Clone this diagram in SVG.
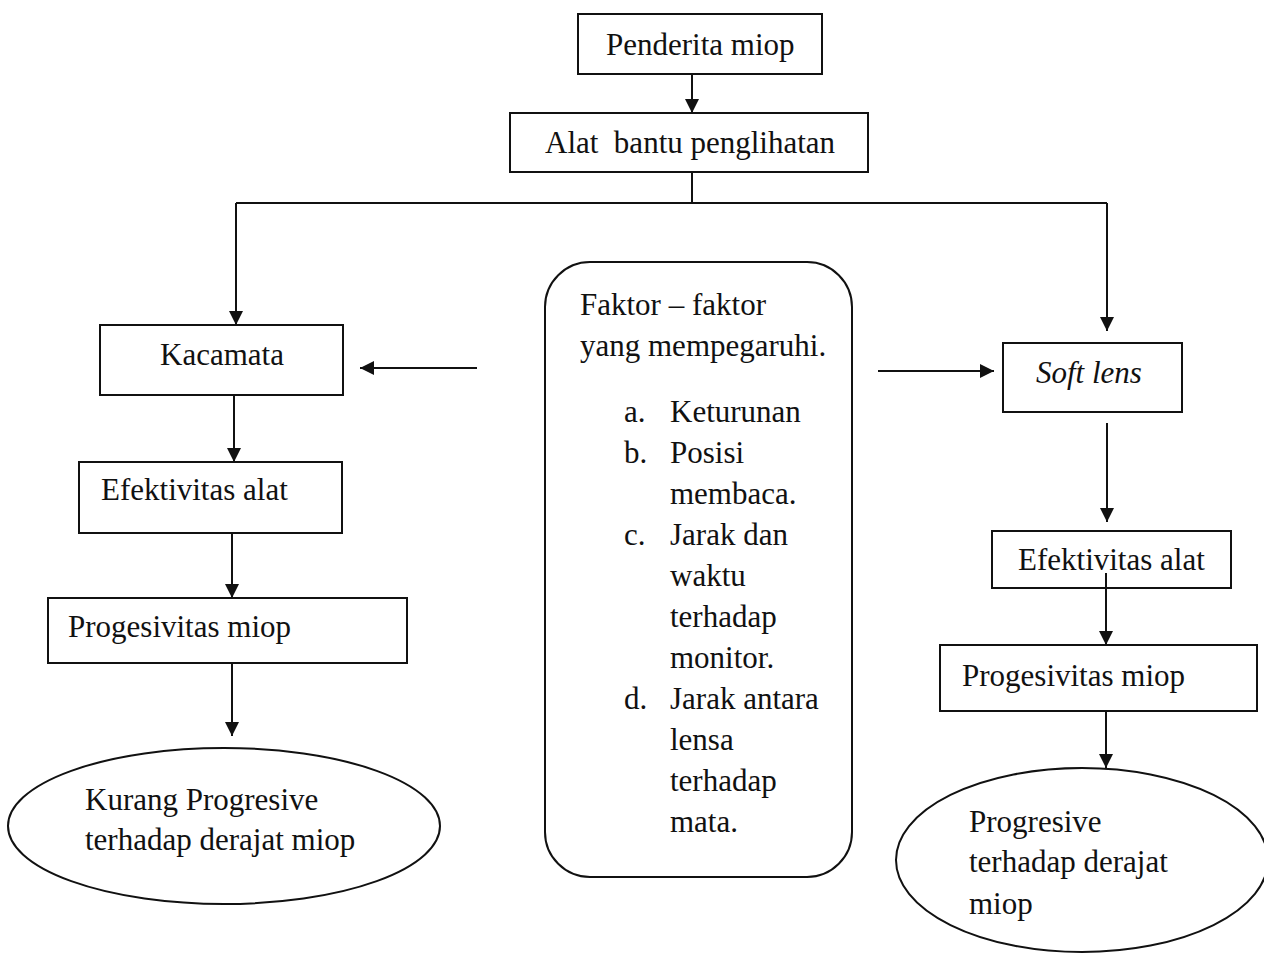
<svg xmlns="http://www.w3.org/2000/svg" width="1264" height="954" viewBox="0 0 1264 954">
<style>
.b{fill:#fff;stroke:#111;stroke-width:2}
.c{fill:none;stroke:#111;stroke-width:2}
text{font-family:"Liberation Serif","Times New Roman",serif;font-size:31px;fill:#111;white-space:pre}
.i{font-style:italic}
</style>
<defs>
<marker id="ah" viewBox="0 0 14 14" refX="14" refY="7" markerWidth="14" markerHeight="14" markerUnits="userSpaceOnUse" orient="auto">
<path d="M0,0 L14,7 L0,14 Z" fill="#111"/>
</marker>
</defs>
<rect width="1264" height="954" fill="#fff"/>
<g id="connectors">
<line class="c" x1="692" y1="74" x2="692" y2="113" marker-end="url(#ah)"/>
<polyline class="c" points="692,172 692,203"/>
<polyline class="c" points="236,203 1107,203"/>
<line class="c" x1="236" y1="203" x2="236" y2="325" marker-end="url(#ah)"/>
<line class="c" x1="1107" y1="203" x2="1107" y2="331" marker-end="url(#ah)"/>
<line class="c" x1="234" y1="395" x2="234" y2="462" marker-end="url(#ah)"/>
<line class="c" x1="232" y1="533" x2="232" y2="598" marker-end="url(#ah)"/>
<line class="c" x1="232" y1="663" x2="232" y2="736" marker-end="url(#ah)"/>
<line class="c" x1="477" y1="368" x2="360" y2="368" marker-end="url(#ah)"/>
<line class="c" x1="878" y1="371" x2="994" y2="371" marker-end="url(#ah)"/>
<line class="c" x1="1107" y1="423" x2="1107" y2="522" marker-end="url(#ah)"/>
<line class="c" x1="1106" y1="573" x2="1106" y2="645" marker-end="url(#ah)"/>
<line class="c" x1="1106" y1="711" x2="1106" y2="768" marker-end="url(#ah)"/>
</g>
<g id="penderita">
<rect class="b" x="578" y="14" width="244" height="60"/>
<text x="606" y="55">Penderita miop</text>
</g>
<g id="alat-bantu">
<rect class="b" x="510" y="113" width="358" height="59"/>
<text x="545" y="153">Alat  bantu penglihatan</text>
</g>
<g id="kacamata">
<rect class="b" x="100" y="325" width="243" height="70"/>
<text x="160" y="365">Kacamata</text>
</g>
<g id="efektivitas-kiri">
<rect class="b" x="79" y="462" width="263" height="71"/>
<text x="101" y="500">Efektivitas alat</text>
</g>
<g id="progesivitas-kiri">
<rect class="b" x="48" y="598" width="359" height="65"/>
<text x="68" y="637">Progesivitas miop</text>
</g>
<g id="kurang-progresive">
<ellipse class="b" cx="224" cy="826" rx="216" ry="78"/>
<text x="85" y="810">Kurang Progresive</text>
<text x="85" y="850">terhadap derajat miop</text>
</g>
<g id="faktor">
<rect class="b" x="545" y="262" width="307" height="615" rx="45" ry="45"/>
<text x="580" y="315">Faktor – faktor</text>
<text x="580" y="356">yang mempegaruhi.</text>
<text x="624" y="422">a.</text><text x="670" y="422">Keturunan</text>
<text x="624" y="463">b.</text><text x="670" y="463">Posisi</text>
<text x="670" y="504">membaca.</text>
<text x="624" y="545">c.</text><text x="670" y="545">Jarak dan</text>
<text x="670" y="586">waktu</text>
<text x="670" y="627">terhadap</text>
<text x="670" y="668">monitor.</text>
<text x="624" y="709">d.</text><text x="670" y="709">Jarak antara</text>
<text x="670" y="750">lensa</text>
<text x="670" y="791">terhadap</text>
<text x="670" y="832">mata.</text>
</g>
<g id="soft-lens">
<rect class="b" x="1003" y="343" width="179" height="69"/>
<text class="i" x="1036" y="383">Soft lens</text>
</g>
<g id="efektivitas-kanan">
<rect class="b" x="992" y="531" width="239" height="57"/>
<text x="1018" y="570">Efektivitas alat</text>
</g>
<g id="progesivitas-kanan">
<rect class="b" x="940" y="645" width="317" height="66"/>
<text x="962" y="686">Progesivitas miop</text>
</g>
<g id="progresive">
<ellipse class="b" cx="1082" cy="860" rx="186" ry="92"/>
<text x="969" y="832">Progresive</text>
<text x="969" y="872">terhadap derajat</text>
<text x="969" y="914">miop</text>
</g>
<line class="c" x1="1106" y1="573" x2="1106" y2="588"/>
</svg>
